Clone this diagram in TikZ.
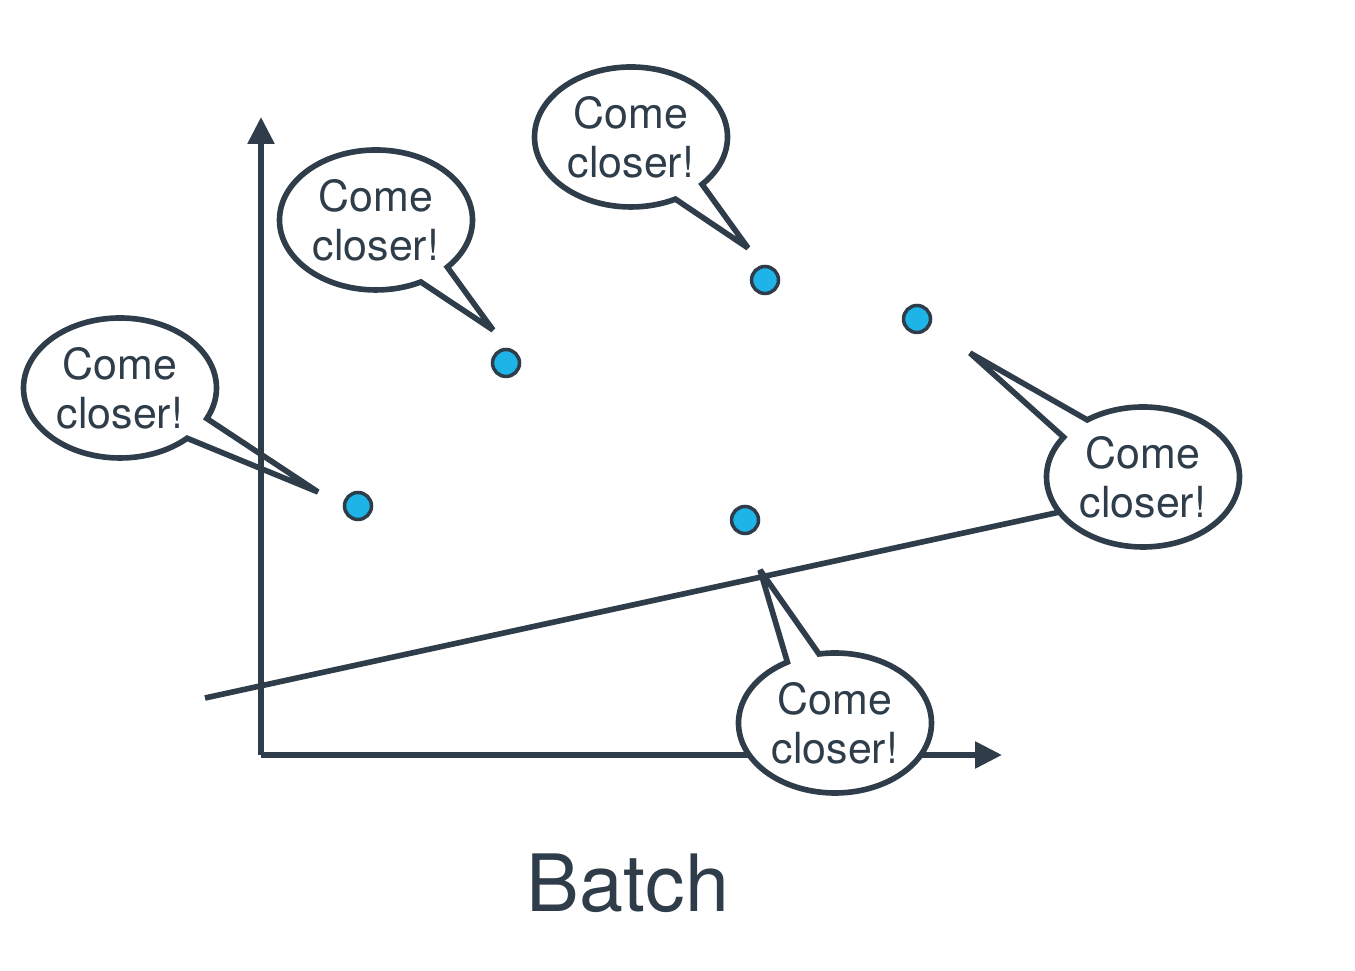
\documentclass[tikz,border=0pt]{standalone}
\usepackage{fontspec}
\setmainfont{TeX Gyre Heros}
\usetikzlibrary{shapes.callouts,arrows.meta}
\definecolor{slate}{HTML}{2E3D49}
\definecolor{dotblue}{HTML}{1EB4E8}

\begin{document}
\begin{tikzpicture}[
    >={Triangle[length=0.27cm,width=0.26cm]},
    axis/.style={line width=1.6pt,draw=slate},
    datapoint/.style={circle,draw=slate,fill=dotblue,line width=1pt,minimum size=0.27cm,inner sep=0pt},
    bubble/.style={ellipse callout,draw=slate,fill=white,text=slate,line width=1.6pt,miter limit=3,
        align=center,inner sep=0pt,minimum width=1.93cm,minimum height=1.40cm,
        callout pointer arc=20,font=\fontsize{12.2}{14}\selectfont}
]
    \useasboundingbox (0,0) rectangle (13.55,9.71);
    % axes
    \coordinate (origin) at (2.61,2.16);
    \coordinate (xend) at (10.02,2.16);
    \coordinate (yend) at (2.61,8.54);
    \draw[axis,->] (origin) -- (xend);
    % fitted line
    \coordinate (fitA) at (2.05,2.73);
    \coordinate (fitB) at (10.60,4.59);
    \draw[axis] (fitA) -- (fitB);
    % points of the batch
    \node[datapoint] (p1) at (3.58,4.65) {};
    \node[datapoint] (p2) at (5.06,6.08) {};
    \node[datapoint] (p3) at (7.65,6.91) {};
    \node[datapoint] (p4) at (9.17,6.52) {};
    \node[datapoint] (p5) at (7.45,4.51) {};
    % speech bubbles
    \node[bubble,callout absolute pointer={(3.18,4.79)}] (b1) at (1.20,5.83) {Come\\closer!};
    \node[bubble,callout absolute pointer={(4.93,6.41)}] (b2) at (3.76,7.51) {Come\\closer!};
    \node[bubble,callout absolute pointer={(7.48,7.23)}] (b3) at (6.31,8.34) {Come\\closer!};
    \node[bubble,callout absolute pointer={(9.70,6.18)}] (b4) at (11.43,4.94) {Come\\closer!};
    \node[bubble,callout absolute pointer={(7.60,4.01)}] (b5) at (8.35,2.48) {Come\\closer!};
    \draw[axis,->] (origin) -- (yend);
    \node[text=slate,font=\fontsize{22.5}{27}\selectfont] (batch) at (6.28,0.88) {Batch};
\end{tikzpicture}
\end{document}
